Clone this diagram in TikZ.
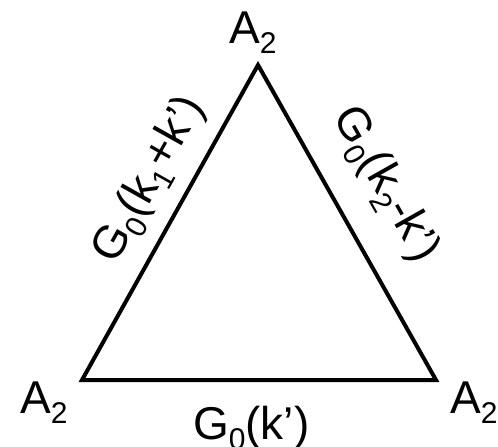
\documentclass[tikz,border=0pt]{standalone}
\usepackage{fontspec}
\setmainfont{Liberation Sans}
\newcommand\lsub[1]{\raisebox{-0.22em}{\fontsize{30}{30}\selectfont #1}}
\begin{document}
\begin{tikzpicture}[x=1pt,y=-1pt,
  lbl/.style={inner sep=0pt,font=\fontsize{46}{50}\selectfont},
  edgeline/.style={line width=4pt,line join=miter}]
\useasboundingbox (0,0) rectangle (498,447);
\coordinate (top) at (258,65);
\coordinate (bl) at (82,380);
\coordinate (br) at (436,380);
\draw[edgeline] (bl) -- (top) -- (br) -- cycle;
\node[lbl,anchor=base west] (atop) at (229,43) {A\lsub{2}};
\node[lbl,anchor=base west] (abl) at (20,413) {A\lsub{2}};
\node[lbl,anchor=base west] (abr) at (450,413) {A\lsub{2}};
\node[lbl,anchor=base west] (gbot) at (193,439) {G\lsub{0}(k’)};
\node[lbl,rotate=60.7] (gleft) at (150,180) {G\lsub{0}(k\lsub{1}+k’)};
\node[lbl,rotate=-60.5] (gright) at (385,185) {G\lsub{0}(k\lsub{2}-k’)};
\end{tikzpicture}
\end{document}
